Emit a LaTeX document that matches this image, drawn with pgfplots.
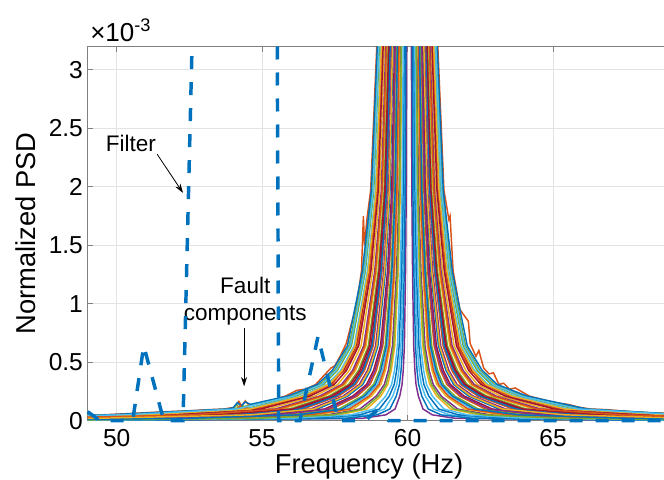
\documentclass[border=0pt]{standalone}
\usepackage{fontspec}
\setmainfont{Liberation Sans}
\usepackage{pgfplots}
\pgfplotsset{compat=1.18}
\usetikzlibrary{arrows.meta}
\definecolor{c1}{rgb}{0,0.447,0.741}
\definecolor{c2}{rgb}{0.850,0.325,0.098}
\definecolor{c3}{rgb}{0.929,0.694,0.125}
\definecolor{c4}{rgb}{0.494,0.184,0.556}
\definecolor{c5}{rgb}{0.466,0.674,0.188}
\definecolor{c6}{rgb}{0.301,0.745,0.933}
\definecolor{c7}{rgb}{0.635,0.078,0.184}
\begin{document}
\begin{tikzpicture}
\begin{axis}[
  at={(0,0)}, anchor=south west,
  scale only axis, width=436.35pt, height=280.65pt,
  xmin=49, xmax=69, ymin=0, ymax=3.2,
  xtick={50,55,60,65}, xticklabels={50,55,60,65},
  ytick={0,0.5,1,1.5,2,2.5,3}, yticklabels={0,0.5,1,1.5,2,2.5,3},
  grid=major, major grid style={black!11, line width=0.6pt},
  axis line style={black!50, line width=0.6pt},
  tick style={black!50, line width=0.6pt}, major tick length=4.4pt,
  tick align=inside,
  ticklabel style={font=\fontsize{18.4}{22}\selectfont, text=black},
  xticklabel style={yshift=-3pt},
  /pgf/number format/assume math mode=true,
  xlabel={Frequency (Hz)}, ylabel={Normalized PSD},
  label style={font=\fontsize{20.5}{24}\selectfont},
  xlabel style={at={(axis description cs:0.4837,-0.1398)}, anchor=base, inner sep=0pt},
  ylabel style={at={(axis description cs:-0.1059,0.5)}, anchor=center},
  every axis plot/.append style={line width=1.1pt, no marks},
]
% k1 blue w=0.52
\addplot[c1] coordinates {(49,.0185) (49.62,.02) (54.82,.05) (56.90,.10) (57.94,.21) (58.46,.31) (58.72,.43) (58.98,.64) (59.24,1.28) (59.396,1.97) (59.50,3.2) (60.02,40) (60.54,3.2) (60.644,1.97) (60.80,1.28) (61.06,.64) (61.32,.43) (61.58,.31) (62.10,.21) (63.14,.10) (65.22,.05) (69,.0243)};
% k2 orange w=1.05 noisy
\addplot[c2] coordinates {(49,.047) (49.49,.05) (50.5,.062) (51.5,.075) (52.5,.085) (53.2,.095) (53.69,.10) (54.05,.115) (54.2,.165) (54.3,.125) (54.42,.17) (54.55,.13) (55.0,.16) (55.4,.18) (55.79,.21) (56.2,.26) (56.5,.27) (56.84,.31) (57.1,.38) (57.365,.45) (57.5,.47) (57.7,.56) (57.89,.66) (58.1,.86) (58.25,1.0) (58.415,1.28) (58.48,1.75) (58.52,1.5) (58.6,1.72) (58.73,1.97) (58.94,3.2) (59.99,40) (61.04,3.2) (61.25,1.97) (61.42,1.72) (61.46,1.75) (61.565,1.28) (61.8,0.95) (62.09,0.85) (62.15,0.66) (62.35,0.55) (62.45,0.6) (62.615,0.45) (62.8,0.40) (62.95,0.41) (63.14,0.31) (63.3,0.32) (63.5,0.27) (63.7,0.28) (64.19,0.21) (64.5,0.19) (64.8,0.17) (65.2,0.15) (65.5,0.14) (65.9,0.115) (66.29,.10) (66.8,.095) (67.3,.085) (67.8,.075) (68.3,.068) (69,.062)};
% k3 yellow w=0.72
\addplot[c3] coordinates {(49,.0286) (52.81,.05) (55.69,.10) (57.13,.21) (57.85,.31) (58.21,.43) (58.57,.64) (58.93,1.28) (59.146,1.97) (59.29,3.2) (60.01,40) (60.73,3.2) (60.874,1.97) (61.09,1.28) (61.45,.64) (61.81,.43) (62.17,.31) (62.89,.21) (64.33,.10) (67.21,.05) (69,.0373)};
% k4 purple w=0.08
\addplot[c4] coordinates {(49,.0016) (58.45,.02) (59.25,.05) (59.57,.10) (59.73,.21) (59.81,.31) (59.85,.43) (59.89,.64) (59.93,1.28) (59.954,1.97) (59.97,3.2) (60.05,40) (60.13,3.2) (60.146,1.97) (60.17,1.28) (60.21,.64) (60.25,.43) (60.29,.31) (60.37,.21) (60.53,.10) (60.85,.05) (61.65,.02) (69,.002)};
% k5 green w=0.96
\addplot[c5] coordinates {(49,.0418) (50.39,.05) (52.5,.075) (54.0,.097) (54.12,.14) (54.23,.10) (54.35,.125) (54.5,.105) (56.15,.21) (57.11,.31) (57.59,.43) (58.07,.64) (58.55,1.28) (58.838,1.97) (59.03,3.2) (59.99,40) (60.95,3.2) (61.142,1.97) (61.43,1.28) (61.91,.64) (62.39,.43) (62.87,.31) (63.83,.21) (65.75,.10) (69,.0545)};
% k6 cyan w=0.14
\addplot[c6] coordinates {(49,.0033) (57.25,.02) (58.65,.05) (59.21,.10) (59.49,.21) (59.63,.31) (59.70,.43) (59.77,.64) (59.84,1.28) (59.882,1.97) (59.91,3.2) (60.05,40) (60.19,3.2) (60.218,1.97) (60.26,1.28) (60.33,.64) (60.40,.43) (60.47,.31) (60.61,.21) (60.89,.10) (61.45,.05) (62.85,.02) (69,.0043)};
% k7 darkred w=0.64
\addplot[c7] coordinates {(49,.0244) (53.62,.05) (56.18,.10) (57.46,.21) (58.10,.31) (58.42,.43) (58.74,.64) (59.06,1.28) (59.252,1.97) (59.38,3.2) (60.02,40) (60.66,3.2) (60.788,1.97) (60.98,1.28) (61.30,.64) (61.62,.43) (61.94,.31) (62.58,.21) (63.86,.10) (66.42,.05) (69,.032)};
% k8 blue w=0.11
\addplot[c1] coordinates {(49,.0024) (57.85,.02) (58.95,.05) (59.39,.10) (59.61,.21) (59.72,.31) (59.775,.43) (59.83,.64) (59.885,1.28) (59.918,1.97) (59.94,3.2) (60.05,40) (60.16,3.2) (60.182,1.97) (60.215,1.28) (60.27,.64) (60.325,.43) (60.38,.31) (60.49,.21) (60.71,.10) (61.15,.05) (62.25,.02) (69,.0031)};
% k9 orange w=0.44
\addplot[c2] coordinates {(49,.0148) (51.23,.02) (55.63,.05) (57.39,.10) (58.27,.21) (58.71,.31) (58.93,.43) (59.15,.64) (59.37,1.28) (59.502,1.97) (59.59,3.2) (60.03,40) (60.47,3.2) (60.558,1.97) (60.69,1.28) (60.91,.64) (61.13,.43) (61.35,.31) (61.79,.21) (62.67,.10) (64.43,.05) (68.83,.02) (69,.0195)};
% k10 yellow w=0.80
\addplot[c3] coordinates {(49,.0328) (52.00,.05) (55.20,.10) (56.80,.21) (57.60,.31) (58.00,.43) (58.40,.64) (58.80,1.28) (59.04,1.97) (59.20,3.2) (60,40) (60.80,3.2) (60.96,1.97) (61.20,1.28) (61.60,.64) (62.00,.43) (62.40,.31) (63.20,.21) (64.80,.10) (68.00,.05) (69,.0428)};
% k11 purple w=0.28
\addplot[c4] coordinates {(49,.0082) (54.44,.02) (57.24,.05) (58.36,.10) (58.92,.21) (59.20,.31) (59.34,.43) (59.48,.64) (59.62,1.28) (59.704,1.97) (59.76,3.2) (60.04,40) (60.32,3.2) (60.376,1.97) (60.46,1.28) (60.60,.64) (60.74,.43) (60.88,.31) (61.16,.21) (61.72,.10) (62.84,.05) (65.64,.02) (69,.0108)};
% k12 green w=1.00
\addplot[c5] coordinates {(49,.0441) (49.99,.05) (53.99,.10) (55.99,.21) (56.99,.31) (57.49,.43) (57.99,.64) (58.49,1.28) (58.79,1.97) (58.99,3.2) (59.99,40) (60.99,3.2) (61.19,1.97) (61.49,1.28) (61.99,.64) (62.49,.43) (62.99,.31) (63.99,.21) (65.99,.10) (69,.0576)};
% k13 cyan w=0.36
\addplot[c6] coordinates {(49,.0114) (52.84,.02) (56.44,.05) (57.88,.10) (58.60,.21) (58.96,.31) (59.14,.43) (59.32,.64) (59.50,1.28) (59.608,1.97) (59.68,3.2) (60.04,40) (60.40,3.2) (60.472,1.97) (60.58,1.28) (60.76,.64) (60.94,.43) (61.12,.31) (61.48,.21) (62.20,.10) (63.64,.05) (67.24,.02) (69,.015)};
% k14 darkred w=0.88
\addplot[c7] coordinates {(49,.0372) (51.20,.05) (54.72,.10) (56.48,.21) (57.36,.31) (57.80,.43) (58.24,.64) (58.68,1.28) (58.944,1.97) (59.12,3.2) (60,40) (60.88,3.2) (61.056,1.97) (61.32,1.28) (61.76,.64) (62.20,.43) (62.64,.31) (63.52,.21) (65.28,.10) (68.80,.05) (69,.0485)};
% k15 blue w=1.03
\addplot[c1] coordinates {(49,.0459) (49.69,.05) (53.81,.10) (54.0,.11) (54.15,.155) (54.28,.125) (54.42,.16) (54.6,.14) (55.87,.21) (56.90,.31) (57.415,.43) (57.93,.64) (58.445,1.28) (58.754,1.97) (58.96,3.2) (59.99,40) (61.02,3.2) (61.226,1.97) (61.535,1.28) (62.05,.64) (62.565,.43) (63.08,.31) (64.11,.21) (66.17,.10) (69,.0599)};
% k16 orange w=0.60
\addplot[c2] coordinates {(49,.0224) (54.02,.05) (56.42,.10) (57.62,.21) (58.22,.31) (58.52,.43) (58.82,.64) (59.12,1.28) (59.30,1.97) (59.42,3.2) (60.02,40) (60.62,3.2) (60.74,1.97) (60.92,1.28) (61.22,.64) (61.52,.43) (61.82,.31) (62.42,.21) (63.62,.10) (66.02,.05) (69,.0294)};
% k17 yellow w=0.24
\addplot[c3] coordinates {(49,.0067) (55.24,.02) (57.64,.05) (58.60,.10) (59.08,.21) (59.32,.31) (59.44,.43) (59.56,.64) (59.68,1.28) (59.752,1.97) (59.80,3.2) (60.04,40) (60.28,3.2) (60.328,1.97) (60.40,1.28) (60.52,.64) (60.64,.43) (60.76,.31) (61.00,.21) (61.48,.10) (62.44,.05) (64.84,.02) (69,.0088)};
% k18 purple w=0.56
\addplot[c4] coordinates {(49,.0205) (54.42,.05) (56.66,.10) (57.78,.21) (58.34,.31) (58.62,.43) (58.90,.64) (59.18,1.28) (59.348,1.97) (59.46,3.2) (60.02,40) (60.58,3.2) (60.692,1.97) (60.86,1.28) (61.14,.64) (61.42,.43) (61.70,.31) (62.26,.21) (63.38,.10) (65.62,.05) (69,.0268)};
% k19 green w=0.40
\addplot[c5] coordinates {(49,.0131) (52.03,.02) (56.03,.05) (57.63,.10) (58.43,.21) (58.83,.31) (59.03,.43) (59.23,.64) (59.43,1.28) (59.55,1.97) (59.63,3.2) (60.03,40) (60.43,3.2) (60.51,1.97) (60.63,1.28) (60.83,.64) (61.03,.43) (61.23,.31) (61.63,.21) (62.43,.10) (64.03,.05) (68.03,.02) (69,.0172)};
% k20 cyan w=0.92
\addplot[c6] coordinates {(49,.0395) (50.80,.05) (54.48,.10) (56.32,.21) (57.24,.31) (57.70,.43) (58.16,.64) (58.62,1.28) (58.896,1.97) (59.08,3.2) (60,40) (60.92,3.2) (61.104,1.97) (61.38,1.28) (61.84,.64) (62.30,.43) (62.76,.31) (63.68,.21) (65.52,.10) (69,.0515)};
% k21 darkred w=0.48
\addplot[c7] coordinates {(49,.0166) (50.43,.02) (55.23,.05) (57.15,.10) (58.11,.21) (58.59,.31) (58.83,.43) (59.07,.64) (59.31,1.28) (59.454,1.97) (59.55,3.2) (60.03,40) (60.51,3.2) (60.606,1.97) (60.75,1.28) (60.99,.64) (61.23,.43) (61.47,.31) (61.95,.21) (62.91,.10) (64.83,.05) (69,.0219)};
% k22 blue w=0.17
\addplot[c1] coordinates {(49,.0042) (56.65,.02) (58.35,.05) (59.03,.10) (59.37,.21) (59.54,.31) (59.625,.43) (59.71,.64) (59.795,1.28) (59.846,1.97) (59.88,3.2) (60.05,40) (60.22,3.2) (60.254,1.97) (60.305,1.28) (60.39,.64) (60.475,.43) (60.56,.31) (60.73,.21) (61.07,.10) (61.75,.05) (63.45,.02) (69,.0056)};
% k23 orange w=0.86 noisy
\addplot[c2] coordinates {(49,.036) (51.40,.05) (53.5,.075) (54.1,.085) (54.25,.13) (54.35,.09) (54.45,.115) (54.6,.09) (54.84,.10) (55.6,.15) (56.56,.21) (57.0,.27) (57.42,.31) (57.6,.38) (57.85,.43) (58.05,.53) (58.28,.64) (58.5,.95) (58.71,1.28) (58.968,1.97) (59.14,3.2) (60,40) (60.86,3.2) (61.032,1.97) (61.29,1.28) (61.72,.64) (61.9,.56) (62.15,.43) (62.3,.40) (62.58,.31) (62.9,.28) (63.44,.21) (63.8,.18) (64.3,.15) (65.16,.10) (65.8,.085) (66.5,.07) (67.5,.058) (68.60,.05) (69,.047)};
% k24 yellow w=0.32
\addplot[c3] coordinates {(49,.0097) (53.64,.02) (56.84,.05) (58.12,.10) (58.76,.21) (59.08,.31) (59.24,.43) (59.40,.64) (59.56,1.28) (59.656,1.97) (59.72,3.2) (60.04,40) (60.36,3.2) (60.424,1.97) (60.52,1.28) (60.68,.64) (60.84,.43) (61.00,.31) (61.32,.21) (61.96,.10) (63.24,.05) (66.44,.02) (69,.0128)};
% k25 purple w=0.76
\addplot[c4] coordinates {(49,.0306) (52.41,.05) (55.45,.10) (56.97,.21) (57.73,.31) (58.11,.43) (58.49,.64) (58.87,1.28) (59.098,1.97) (59.25,3.2) (60.01,40) (60.77,3.2) (60.922,1.97) (61.15,1.28) (61.53,.64) (61.91,.43) (62.29,.31) (63.05,.21) (64.57,.10) (67.61,.05) (69,.040)};
% k26 green w=0.68
\addplot[c5] coordinates {(49,.0265) (53.21,.05) (54.2,.062) (54.3,.11) (54.4,.068) (55.93,.10) (57.29,.21) (57.97,.31) (58.31,.43) (58.65,.64) (58.99,1.28) (59.194,1.97) (59.33,3.2) (60.01,40) (60.69,3.2) (60.826,1.97) (61.03,1.28) (61.37,.64) (61.71,.43) (62.05,.31) (62.73,.21) (64.09,.10) (66.81,.05) (69,.0346)};
% k27 cyan w=0.20
\addplot[c6] coordinates {(49,.0052) (56.05,.02) (58.05,.05) (58.85,.10) (59.25,.21) (59.45,.31) (59.55,.43) (59.65,.64) (59.75,1.28) (59.81,1.97) (59.85,3.2) (60.05,40) (60.25,3.2) (60.29,1.97) (60.35,1.28) (60.45,.64) (60.55,.43) (60.65,.31) (60.85,.21) (61.25,.10) (62.05,.05) (64.05,.02) (69,.0069)};
% k28 darkred w=0.84
\addplot[c7] coordinates {(49,.035) (51.60,.05) (54.96,.10) (56.64,.21) (57.48,.31) (57.90,.43) (58.32,.64) (58.74,1.28) (58.992,1.97) (59.16,3.2) (60,40) (60.84,3.2) (61.008,1.97) (61.26,1.28) (61.68,.64) (62.10,.43) (62.52,.31) (63.36,.21) (65.04,.10) (68.40,.05) (69,.0457)};
% k29 blue w=0.62
\addplot[c1] coordinates {(49,.0234) (53.82,.05) (56.30,.10) (57.54,.21) (58.16,.31) (58.47,.43) (58.78,.64) (59.09,1.28) (59.276,1.97) (59.40,3.2) (60.02,40) (60.64,3.2) (60.764,1.97) (60.95,1.28) (61.26,.64) (61.57,.43) (61.88,.31) (62.50,.21) (63.74,.10) (66.22,.05) (69,.0307)};
% k30 orange w=0.34
\addplot[c2] coordinates {(49,.0105) (53.24,.02) (56.64,.05) (58.00,.10) (58.68,.21) (59.02,.31) (59.19,.43) (59.36,.64) (59.53,1.28) (59.632,1.97) (59.70,3.2) (60.04,40) (60.38,3.2) (60.448,1.97) (60.55,1.28) (60.72,.64) (60.89,.43) (61.06,.31) (61.40,.21) (62.08,.10) (63.44,.05) (66.84,.02) (69,.0139)};
% k31 yellow w=0.90
\addplot[c3] coordinates {(49,.0384) (51.00,.05) (54.60,.10) (56.40,.21) (57.30,.31) (57.75,.43) (58.20,.64) (58.65,1.28) (58.92,1.97) (59.10,3.2) (60,40) (60.90,3.2) (61.08,1.97) (61.35,1.28) (61.80,.64) (62.25,.43) (62.70,.31) (63.60,.21) (65.40,.10) (69,.05)};
% k32 purple w=0.46
\addplot[c4] coordinates {(49,.0157) (50.83,.02) (55.43,.05) (57.27,.10) (58.19,.21) (58.65,.31) (58.88,.43) (59.11,.64) (59.34,1.28) (59.478,1.97) (59.57,3.2) (60.03,40) (60.49,3.2) (60.582,1.97) (60.72,1.28) (60.95,.64) (61.18,.43) (61.41,.31) (61.87,.21) (62.79,.10) (64.63,.05) (69,.0207)};
% k33 green w=0.26
\addplot[c5] coordinates {(49,.0074) (54.84,.02) (57.44,.05) (58.48,.10) (59.00,.21) (59.26,.31) (59.39,.43) (59.52,.64) (59.65,1.28) (59.728,1.97) (59.78,3.2) (60.04,40) (60.30,3.2) (60.352,1.97) (60.43,1.28) (60.56,.64) (60.69,.43) (60.82,.31) (61.08,.21) (61.60,.10) (62.64,.05) (65.24,.02) (69,.0097)};
% k34 cyan w=0.98
\addplot[c6] coordinates {(49,.043) (50.19,.05) (54.11,.10) (56.07,.21) (57.05,.31) (57.54,.43) (58.03,.64) (58.52,1.28) (58.814,1.97) (59.01,3.2) (59.99,40) (60.97,3.2) (61.166,1.97) (61.46,1.28) (61.95,.64) (62.44,.43) (62.93,.31) (63.91,.21) (65.87,.10) (69,.0561)};
% k35 darkred w=0.66
\addplot[c7] coordinates {(49,.0254) (53.41,.05) (56.05,.10) (57.37,.21) (58.03,.31) (58.36,.43) (58.69,.64) (59.02,1.28) (59.218,1.97) (59.35,3.2) (60.01,40) (60.67,3.2) (60.802,1.97) (61.00,1.28) (61.33,.64) (61.66,.43) (61.99,.31) (62.65,.21) (63.97,.10) (66.61,.05) (69,.0333)};
% k36 blue w=0.38
\addplot[c1] coordinates {(49,.0122) (52.43,.02) (56.23,.05) (57.75,.10) (58.51,.21) (58.89,.31) (59.08,.43) (59.27,.64) (59.46,1.28) (59.574,1.97) (59.65,3.2) (60.03,40) (60.41,3.2) (60.486,1.97) (60.60,1.28) (60.79,.64) (60.98,.43) (61.17,.31) (61.55,.21) (62.31,.10) (63.83,.05) (67.63,.02) (69,.0161)};
% k37 orange w=0.74
\addplot[c2] coordinates {(49,.0296) (52.61,.05) (55.57,.10) (57.05,.21) (57.79,.31) (58.16,.43) (58.53,.64) (58.90,1.28) (59.122,1.97) (59.27,3.2) (60.01,40) (60.75,3.2) (60.898,1.97) (61.12,1.28) (61.49,.64) (61.86,.43) (62.23,.31) (62.97,.21) (64.45,.10) (67.41,.05) (69,.0387)};
% k38 yellow w=0.54
\addplot[c3] coordinates {(49,.0195) (49.22,.02) (54.62,.05) (56.78,.10) (57.86,.21) (58.40,.31) (58.67,.43) (58.94,.64) (59.21,1.28) (59.372,1.97) (59.48,3.2) (60.02,40) (60.56,3.2) (60.668,1.97) (60.83,1.28) (61.10,.64) (61.37,.43) (61.64,.31) (62.18,.21) (63.26,.10) (65.42,.05) (69,.0255)};
% annotations
\node[font=\fontsize{16.9}{20.3}\selectfont] at (axis cs:50.49,2.372) {Filter};
\draw[-{Stealth[length=7pt,width=4.5pt]}, line width=0.6pt] (axis cs:51.39,2.279) -- (axis cs:52.28,1.948);
\node[font=\fontsize{16.9}{20.3}\selectfont, align=center] at (axis cs:54.42,1.024) {Fault\\components};
\draw[-{Stealth[length=7pt,width=4.5pt]}, line width=0.6pt] (axis cs:54.38,0.789) -- (axis cs:54.38,0.294);
\end{axis}
% overlay axis for the filter response, unclipped so the dashes along zero keep their full width
\begin{axis}[
  at={(0,0)}, anchor=south west,
  scale only axis, width=436.35pt, height=280.65pt,
  xmin=49, xmax=69, ymin=0, ymax=3.2,
  hide axis, clip=false,
]
\addplot[c1, no marks, line width=2.6pt, dash pattern=on 9.75pt off 9.75pt] coordinates {(49,0.077) (49.43,0) (50.55,0) (50.93,0.64) (51.62,0) (52.28,0) (52.59,3.2)};
\addplot[c1, no marks, line width=2.6pt, dash pattern=on 9.75pt off 9.75pt] coordinates {(55.52,3.2) (55.57,0) (56.3,0) (56.92,0.72) (57.62,0) (58.55,0) (58.9,0.08) (59.35,0) (69,0)};
\end{axis}
\node[anchor=base west, inner sep=0pt, font=\fontsize{19.5}{23}\selectfont] at (1.8pt,284.25pt) {×10\textsuperscript{-3}};
\pgfresetboundingbox
\path[use as bounding box] (-65.7pt,-43.725pt) rectangle (432.3pt,315.525pt);
\end{tikzpicture}
\end{document}
